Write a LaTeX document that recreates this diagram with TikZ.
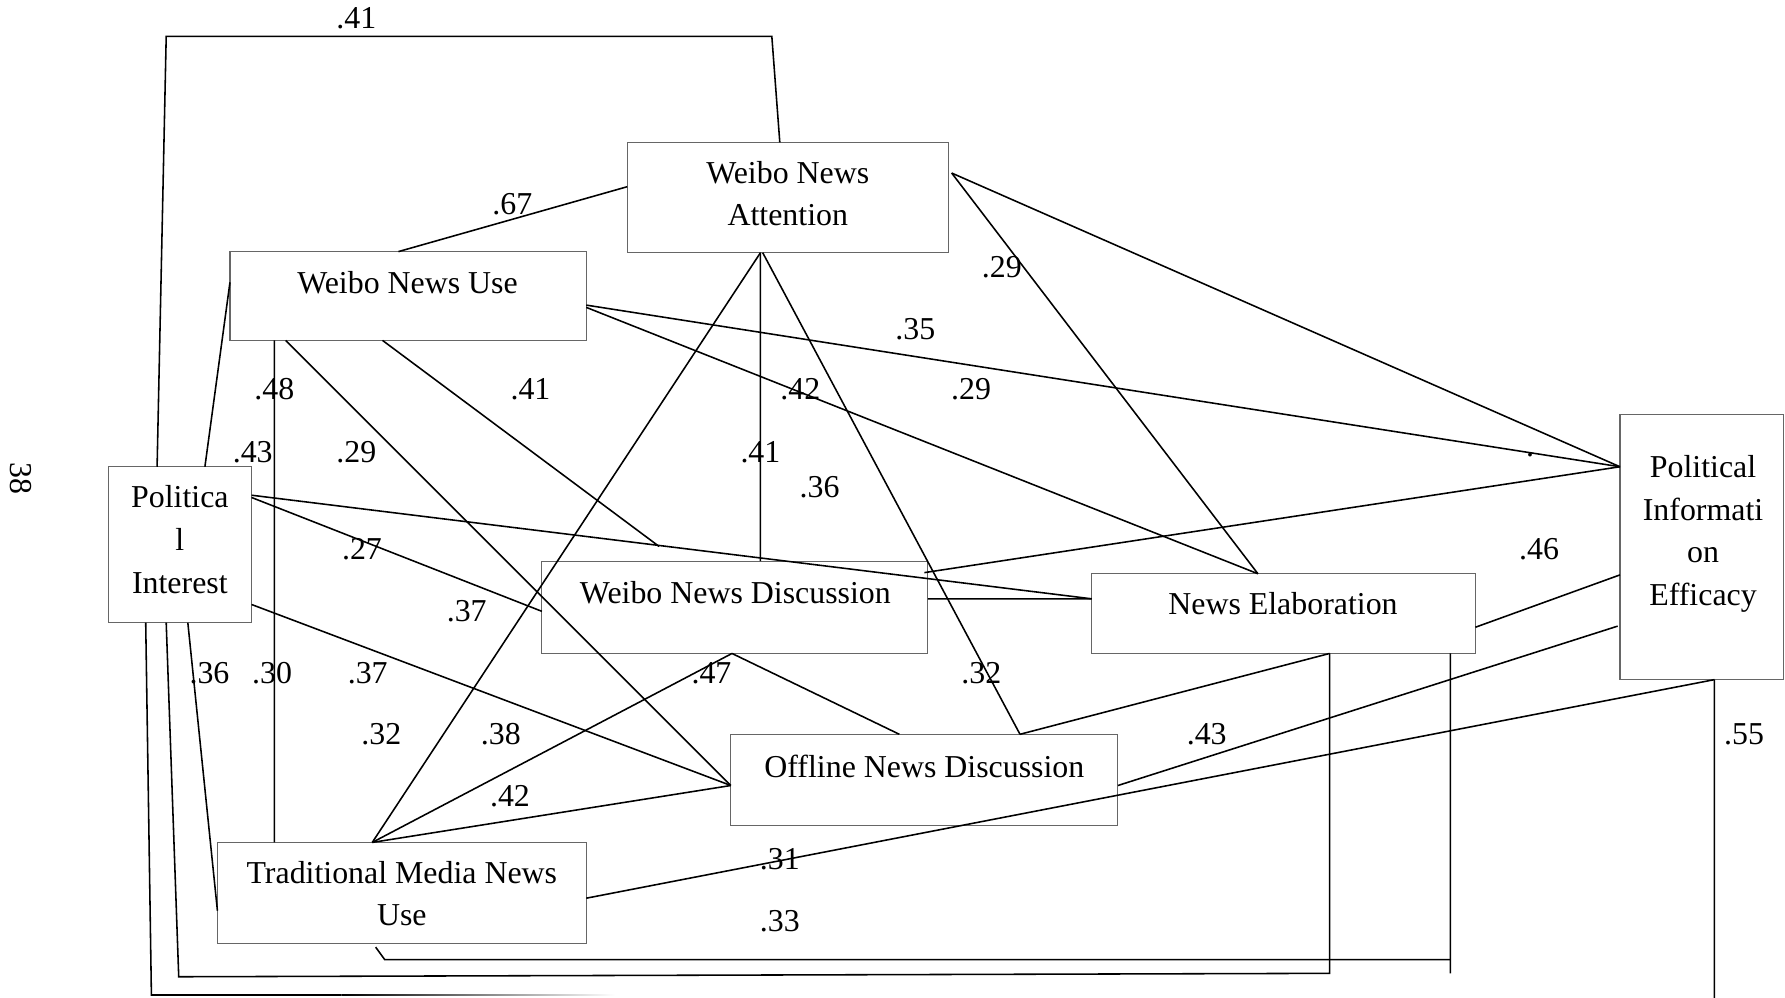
\documentclass[tikz,border=0pt]{standalone}
\usepackage{fontspec}
\setmainfont{Liberation Serif}
\usetikzlibrary{calc}
\begin{document}
\begin{tikzpicture}[x=0.4pt,y=-0.4pt,
  box/.style={draw=black!60, line width=0.4pt, inner sep=0pt, outer sep=0pt},
  txt/.style={font=\fontsize{11.2}{15}\selectfont, align=center, inner sep=0pt},
  lbl/.style={font=\fontsize{11.2}{15}\selectfont, inner sep=0pt},
  conn/.style={draw=black, line width=0.55pt},
]
\useasboundingbox (0,0) rectangle (1568,876);
\fill[white] (0,0) rectangle (1568,876);

% boxes
\node[box, minimum width=112.8pt, minimum height=38.8pt] (wna) at (692,173.5) {};
\node[box, minimum width=125.2pt, minimum height=31.2pt] (wnu) at (358.5,260) {};
\node[box, minimum width=50.4pt, minimum height=54.8pt] (pi) at (158,478.5) {};
\node[box, minimum width=135.6pt, minimum height=32.4pt] (wnd) at (645.5,533.5) {};
\node[box, minimum width=134.8pt, minimum height=28pt] (ne) at (1127.5,539) {};
\node[box, minimum width=136pt, minimum height=32pt] (ond) at (812,685) {};
\node[box, minimum width=129.6pt, minimum height=35.6pt] (tmnu) at (353,784.5) {};
\node[box, minimum width=57.6pt, minimum height=93.2pt] (pie) at (1495,480.5) {};

% texts
\node[txt] (wnaT) at (692,170) {Weibo News\\Attention};
\node[txt] (wnuT) at (358,248) {Weibo News Use};
\node[txt] (piT) at (158,474) {Politica\\l\\Interest};
\node[txt] (wndT) at (646,521) {Weibo News Discussion};
\node[txt] (neT) at (1127,530) {News Elaboration};
\node[txt] (ondT) at (812,673) {Offline News Discussion};
\node[txt] (tmnuT) at (353,785) {Traditional Media News\\Use};
\node[txt] (pieT) at (1496,469) {Political\\Informati\\on\\Efficacy};
\node[lbl, rotate=-90] (page) at (18,420) {38};

% ports
\coordinate (piT1) at ($(pi.north west)+(43,0)$);
\coordinate (piT2) at ($(pi.north west)+(85,0)$);
\coordinate (piR1) at ($(pi.north east)+(0,25)$);
\coordinate (piR2) at ($(pi.north east)+(0,27)$);
\coordinate (piR3) at ($(pi.north east)+(0,121)$);
\coordinate (piB1) at ($(pi.south west)+(70,0)$);
\coordinate (piB2) at ($(pi.south west)+(51,0)$);
\coordinate (piB3) at ($(pi.south west)+(33,0)$);
\coordinate (wnaTop) at ($(wna.north west)+(134,0)$);
\coordinate (wnaL) at ($(wna.north west)+(0,39)$);
\coordinate (wnaB1) at ($(wna.south west)+(117,0)$);
\coordinate (wnaB2) at ($(wna.south west)+(119,0)$);
\coordinate (wnaR) at ($(wna.north east)+(3,27)$);
\coordinate (wnuTop) at ($(wnu.north west)+(148,0)$);
\coordinate (wnuL) at ($(wnu.north west)+(0,27)$);
\coordinate (wnuB1) at ($(wnu.south west)+(39,0)$);
\coordinate (wnuB2) at ($(wnu.south west)+(49,0)$);
\coordinate (wnuB3) at ($(wnu.south west)+(134,0)$);
\coordinate (wnuR1) at ($(wnu.north east)+(0,47)$);
\coordinate (wnuR2) at ($(wnu.north east)+(0,49)$);
\coordinate (wndTop) at ($(wnd.north west)+(192,0)$);
\coordinate (wndL) at ($(wnd.north west)+(0,44)$);
\coordinate (wndR1) at ($(wnd.north east)+(-3,10)$);
\coordinate (wndR2) at ($(wnd.north east)+(0,33)$);
\coordinate (wndB) at ($(wnd.south west)+(167,0)$);
\coordinate (neTop) at ($(ne.north west)+(146,0)$);
\coordinate (neL) at ($(ne.north west)+(0,22)$);
\coordinate (neR) at ($(ne.north east)+(0,47)$);
\coordinate (neB1) at ($(ne.south west)+(209,0)$);
\coordinate (neB2) at ($(ne.south west)+(315,0)$);
\coordinate (ondTop1) at ($(ond.north west)+(148,0)$);
\coordinate (ondTop2) at ($(ond.north west)+(254,0)$);
\coordinate (ondL) at ($(ond.north west)+(0,45)$);
\coordinate (ondR) at ($(ond.north east)+(0,45)$);
\coordinate (tmnuTop1) at ($(tmnu.north west)+(50,0)$);
\coordinate (tmnuTop2) at ($(tmnu.north west)+(136,0)$);
\coordinate (tmnuL) at ($(tmnu.north west)+(0,60)$);
\coordinate (tmnuR) at ($(tmnu.north east)+(0,49)$);
\coordinate (tmnuB) at ($(tmnu.south west)+(139,3)$);
\coordinate (pieL1) at ($(pie.north west)+(0,46)$);
\coordinate (pieL2) at ($(pie.north west)+(0,141)$);
\coordinate (pieL3) at ($(pie.north west)+(-2,186)$);
\coordinate (pieB) at ($(pie.south west)+(83,0)$);
% bends and free ends
\coordinate (k1) at (146,32);
\coordinate (k2) at (678,32);
\coordinate (k3) at (157,858);
\coordinate (k4) at (1168,855);
\coordinate (k5) at (133,874);
\coordinate (k6) at (300,874);
\coordinate (k7) at (338,843);
\coordinate (k8) at (1274,843);
\coordinate (k9) at (1274,855);
\coordinate (k10) at (1506,880);
\coordinate (f1) at (579,480);

% connectors
\draw[conn] (piT1) -- (k1) -- (k2) -- (wnaTop);
\draw[conn] (wnuTop) -- (wnaL);
\draw[conn] (piT2) -- (wnuL);
\draw[conn] (wnuB1) -- (tmnuTop1);
\draw[conn] (wnuB2) -- (ondL);
\draw[conn] (wnuB3) -- (f1);
\draw[conn] (wnuR1) -- (pieL1);
\draw[conn] (wnuR2) -- (neTop);
\draw[conn] (wnaB1) -- (tmnuTop2);
\draw[conn] (wnaB1) -- (wndTop);
\draw[conn] (wnaB2) -- (ondTop2);
\draw[conn] (wnaR) -- (pieL1);
\draw[conn] (wnaR) -- (neTop);
\draw[conn] (piR1) -- (neL);
\draw[conn] (piR2) -- (wndL);
\draw[conn] (piR3) -- (ondL);
\draw[conn] (piB1) -- (tmnuL);
\draw[conn] (piB2) -- (k3) -- (k4) -- (neB1);
\draw[conn] (piB3) -- (k5) -- (k6);
\shade[left color=black, right color=white] (300,873.3) rectangle (540,874.7);
\draw[conn] (tmnuB) -- (k7) -- (k8);
\draw[conn] (neB2) -- (k9);
\draw[conn] (wndR1) -- (pieL1);
\draw[conn] (wndR2) -- (neL);
\draw[conn] (neR) -- (pieL2);
\draw[conn] (ondR) -- (pieL3);
\draw[conn] (tmnuR) -- (pieB);
\draw[conn] (pieB) -- (k10);
\draw[conn] (wndB) -- (ondTop1);
\draw[conn] (wndB) -- (tmnuTop2);
\draw[conn] (tmnuTop2) -- (ondL);
\draw[conn] (neB1) -- (ondTop2);

% labels
\node[lbl] (l1) at (313,16) {.41};
\node[lbl] (l2) at (450,179) {.67};
\node[lbl] (l3) at (241,342) {.48};
\node[lbl] (l4) at (466,342) {.41};
\node[lbl] (l5) at (703,342) {.42};
\node[lbl] (l6) at (853,342) {.29};
\node[lbl] (l7) at (804,289) {.35};
\node[lbl] (l8) at (880,235) {.29};
\node[lbl] (l9) at (222,397) {.43};
\node[lbl] (l10) at (313,397) {.29};
\node[lbl] (l11) at (668,397) {.41};
\node[lbl] (l12) at (720,428) {.36};
\node[lbl] (l13) at (1344,400) {.};
\node[lbl] (l14) at (318,482) {.27};
\node[lbl] (l15) at (410,537) {.37};
\node[lbl] (l16) at (1352,482) {.46};
\node[lbl] (l17) at (184,591) {.36};
\node[lbl] (l18) at (239,591) {.30};
\node[lbl] (l19) at (323,591) {.37};
\node[lbl] (l20) at (625,591) {.47};
\node[lbl] (l21) at (862,591) {.32};
\node[lbl] (l22) at (335,645) {.32};
\node[lbl] (l23) at (440,645) {.38};
\node[lbl] (l24) at (1060,645) {.43};
\node[lbl] (l25) at (1532,645) {.55};
\node[lbl] (l26) at (448,699) {.42};
\node[lbl] (l27) at (685,755) {.31};
\node[lbl] (l28) at (685,809) {.33};
\end{tikzpicture}
\end{document}
